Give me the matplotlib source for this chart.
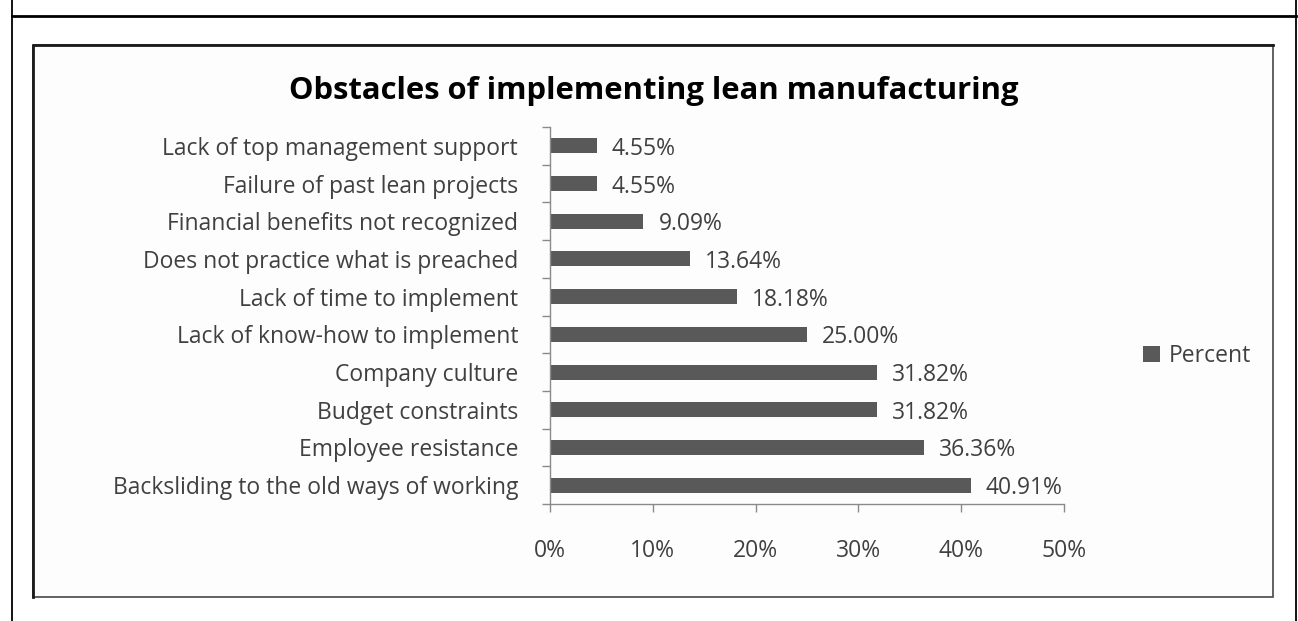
import matplotlib
matplotlib.use("Agg")
import matplotlib.pyplot as plt
from matplotlib.patches import Rectangle
from matplotlib.lines import Line2D
from matplotlib.ticker import FixedLocator, FuncFormatter

categories = [
    "Backsliding to the old ways of working",
    "Employee resistance",
    "Budget constraints",
    "Company culture",
    "Lack of know-how to implement",
    "Lack of time to implement",
    "Does not practice what is preached",
    "Financial benefits not recognized",
    "Failure of past lean projects",
    "Lack of top management support",
]
percent = [40.91, 36.36, 31.82, 31.82, 25.00, 18.18, 13.64, 9.09, 4.55, 4.55]
value_labels = ["40.91%", "36.36%", "31.82%", "31.82%", "25.00%", "18.18%", "13.64%", "9.09%", "4.55%", "4.55%"]
x_ticks = [0, 10, 20, 30, 40, 50]
title = "Obstacles of implementing lean manufacturing"
legend_label = "Percent"

W, H = 1298, 621
plt.rcParams['font.family'] = ['Open Sans', 'DejaVu Sans']
fig = plt.figure(figsize=(W / 100, H / 100), dpi=100)
fig.patch.set_facecolor("white")

def fx(px):
    return px / W

def fy(py):
    return 1 - py / H

# outer frame lines
for (x0, y0, x1, y1, lw) in [(12, 16, 1296, 16, 2.0), (12, 0, 12, 621, 1.3), (1296, 0, 1296, 621, 1.3)]:
    fig.add_artist(Line2D([fx(x0), fx(x1)], [fy(y0), fy(y1)], color="black", lw=lw,
                          transform=fig.transFigure))

# chart box
fig.add_artist(Rectangle((fx(33), fy(597)), fx(1273) - fx(33), fy(45) - fy(597),
                         transform=fig.transFigure, facecolor="#fdfdfd",
                         edgecolor="#555555", lw=1.3, zorder=0))
fig.add_artist(Line2D([fx(33), fx(33), fx(1273)], [fy(597), fy(45), fy(45)], color="#1a1a1a",
                      lw=2.0, transform=fig.transFigure))

ax = fig.add_axes([fx(550), fy(504), fx(1064) - fx(550), fy(127) - fy(504)])
ax.set_facecolor("none")

bar_color = "#595959"
ypos = list(range(len(categories)))
bars = ax.barh(ypos, percent, height=0.4, color=bar_color, label=legend_label)

ax.set_xlim(0, 50)
ax.set_ylim(-0.5, len(categories) - 0.5)

for spine in ["top", "right"]:
    ax.spines[spine].set_visible(False)
for spine in ["left", "bottom"]:
    ax.spines[spine].set_color("#8a8a8a")
    ax.spines[spine].set_linewidth(1.0)

ax.xaxis.set_major_locator(FixedLocator(x_ticks))
ax.xaxis.set_major_formatter(FuncFormatter(lambda v, p: f"{int(v)}%"))
ax.tick_params(axis="x", direction="out", length=6, width=1.0, color="#8a8a8a",
               labelsize=16.5, labelcolor="#404040", pad=19)

ax.set_yticks(ypos)
ax.set_yticklabels(categories, va="center_baseline")
ax.yaxis.set_minor_locator(FixedLocator([i - 0.5 for i in range(len(categories) + 1)]))
ax.tick_params(axis="y", which="major", length=0, labelsize=16.5, labelcolor="#404040", pad=23)
ax.tick_params(axis="y", which="minor", direction="out", length=6, width=1.0, color="#8a8a8a")

for y, v, lab in zip(ypos, percent, value_labels):
    ax.annotate(lab, (v, y), xytext=(15 * 72 / 100, 0), textcoords="offset points",
                ha="left", va="center_baseline", fontsize=16.5, color="#404040")

fig.text(fx(654), fy(91), title, ha="center", va="center", fontsize=22.3,
         fontweight="bold", color="black")

leg = fig.legend(handles=[bars], labels=[legend_label], loc="center left",
                 bbox_to_anchor=(fx(1132), fy(356)), frameon=False, fontsize=16.5,
                 handlelength=0.7, handleheight=0.7, handletextpad=0.4, borderpad=0)
for t in leg.get_texts():
    t.set_color("#404040")

fig.savefig("out.png", dpi=100, facecolor="white")
